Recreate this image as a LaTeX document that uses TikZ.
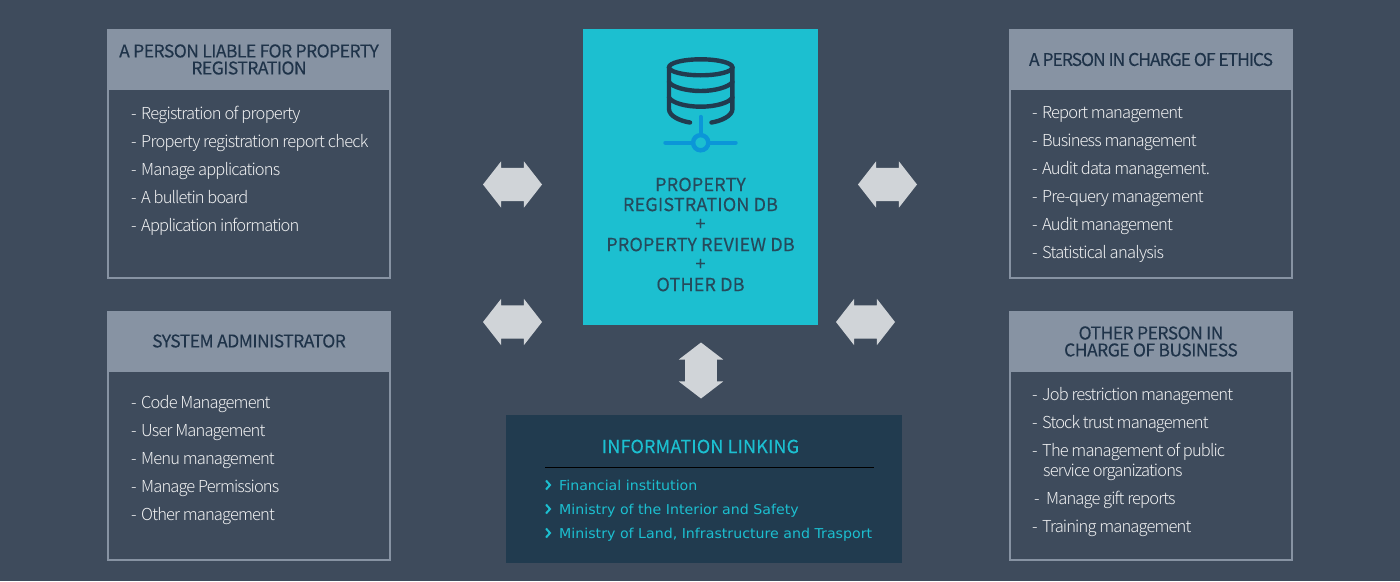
\documentclass[tikz,border=0pt]{standalone}
\usepackage{fontspec}
\usetikzlibrary{shapes.arrows}
\newfontfamily\krfont{Noto Sans CJK KR Light}[LetterSpace=-5.2]
\newfontfamily\krwide{Noto Sans CJK KR Light}[LetterSpace=-4.5]
\newfontfamily\krhead{Noto Sans CJK KR}[LetterSpace=-3,FakeBold=0.25]
\newfontfamily\krheadtight{Noto Sans CJK KR}[LetterSpace=-5.9,FakeBold=0.25]
\newfontfamily\krcent{Noto Sans CJK KR}[LetterSpace=1,FakeBold=0.25]
\newfontfamily\vdfont{DejaVu Sans}[FakeStretch=1.043]
\definecolor{bgc}{HTML}{3E4B5C}
\definecolor{hdrc}{HTML}{8793A3}
\definecolor{hdrtxt}{HTML}{1F3349}
\definecolor{bodytxt}{HTML}{F0F1F2}
\definecolor{cyanc}{HTML}{1CBFD0}
\definecolor{cyantxt}{HTML}{264A5C}
\definecolor{darkc}{HTML}{213B4F}
\definecolor{bluec}{HTML}{0B96D8}
\definecolor{arrowc}{HTML}{D0D4D8}
\tikzset{
  panel/.style={draw=hdrc,line width=2pt,fill=none,inner sep=0pt,minimum width=282pt,rectangle},
  hdrbox/.style={fill=hdrc,inner sep=0pt,minimum width=284pt,align=center,text=hdrtxt,font=\krhead\fontsize{17.5}{18}\selectfont},
  item/.style={anchor=base west,inner sep=0pt,text=bodytxt,font=\krfont\fontsize{16.5}{20}\selectfont},
  itemwide/.style={item,font=\krwide\fontsize{16.5}{20}\selectfont},
  centertxt/.style={inner sep=0pt,text=cyantxt,font=\krcent\fontsize{18}{20}\selectfont},
  linkitem/.style={anchor=base west,inner sep=0pt,text=cyanc,font=\vdfont\fontsize{13.6}{16}\selectfont},
  hdblarrow/.style={double arrow,fill=arrowc,inner sep=0pt,minimum height=59pt,minimum width=46pt,
     double arrow head extend=6.5pt,double arrow tip angle=104},
  vdblarrow/.style={double arrow,shape border rotate=90,fill=arrowc,inner sep=0pt,minimum height=56pt,minimum width=44pt,
     double arrow head extend=6.3pt,double arrow tip angle=105},
  dbline/.style={draw=darkc,line width=4.4pt,line cap=round},
  netline/.style={draw=bluec,line width=4.4pt,line cap=round},
  chev/.style={draw=cyanc,line width=2pt}
}
\newcommand{\dashitem}[1]{\makebox[10pt][l]{-}#1}
\newcommand{\hshaft}{\rule{0pt}{33pt}}
\newcommand{\vshaft}{\rule{31.4pt}{0pt}}
\begin{document}
\begin{tikzpicture}[x=1pt,y=-1pt]
\useasboundingbox (0,0) rectangle (1400,581);
\fill[bgc] (0,0) rectangle (1400,581);

% top-left panel
\node[panel,minimum height=248pt] (tlbox) at (249,154) {};
\node[hdrbox,minimum height=61pt] (tlhead) at (249,59.5) {A PERSON LIABLE FOR PROPERTY\\[-1pt]REGISTRATION};
\node[itemwide] (tl1) at (131,119) {\dashitem{Registration of property}};
\node[itemwide] (tl2) at (131,147) {\dashitem{Property registration report check}};
\node[item] (tl3) at (131,175) {\dashitem{Manage applications}};
\node[item] (tl4) at (131,203) {\dashitem{A bulletin board}};
\node[item] (tl5) at (131,231) {\dashitem{Application information}};

% bottom-left panel
\node[panel,minimum height=248pt] (blbox) at (249,436) {};
\node[hdrbox,minimum height=61pt] (blhead) at (249,341) {SYSTEM ADMINISTRATOR};
\node[item] (bl1) at (131,408) {\dashitem{Code Management}};
\node[item] (bl2) at (131,436) {\dashitem{User Management}};
\node[item] (bl3) at (131,464) {\dashitem{Menu management}};
\node[item] (bl4) at (131,492) {\dashitem{Manage Permissions}};
\node[item] (bl5) at (131,520) {\dashitem{Other management}};

% top-right panel
\node[panel,minimum height=248pt] (trbox) at (1151,154) {};
\node[hdrbox,minimum height=61pt,font=\krheadtight\fontsize{17.5}{18}\selectfont] (trhead) at (1151,59.5) {A PERSON IN CHARGE OF ETHICS};
\node[item] (tr1) at (1032,118) {\dashitem{Report management}};
\node[item] (tr2) at (1032,146) {\dashitem{Business management}};
\node[item] (tr3) at (1032,174) {\dashitem{Audit data management.}};
\node[item] (tr4) at (1032,202) {\dashitem{Pre-query management}};
\node[item] (tr5) at (1032,230) {\dashitem{Audit management}};
\node[itemwide] (tr6) at (1032,258) {\dashitem{Statistical analysis}};

% bottom-right panel
\node[panel,minimum height=248pt] (brbox) at (1151,436) {};
\node[hdrbox,minimum height=61pt] (brhead) at (1151,341.5) {OTHER PERSON IN\\[-1pt]CHARGE OF BUSINESS};
\node[item] (br1) at (1032,400) {\dashitem{Job restriction management}};
\node[item] (br2) at (1032,428) {\dashitem{Stock trust management}};
\node[item] (br3) at (1032,456) {\dashitem{The management of public}};
\node[item] (br3b) at (1043,476) {service organizations};
\node[item] (br4) at (1034,504) {\makebox[12pt][l]{-}Manage gift reports};
\node[item] (br5) at (1032,532) {\dashitem{Training management}};

% central database box
\node[fill=cyanc,inner sep=0pt,minimum width=235pt,minimum height=296pt] (dbbox) at (700.5,177) {};
\draw[dbline] (700.7,67.3) ellipse [x radius=31.7pt,y radius=8pt];
\draw[dbline] (669,67.3) -- (669,109)
  .. controls (669,116) and (680,121) .. (690,122.5);
\draw[dbline] (732.4,67.3) -- (732.4,109)
  .. controls (732.4,116) and (721,121) .. (711.5,122.5);
\draw[dbline] (669,82) .. controls (672,87) and (686,91) .. (700.7,91)
  .. controls (715,91) and (729,87) .. (732.4,82);
\draw[dbline] (669,97.5) .. controls (672,103) and (686,106.7) .. (700.7,106.7)
  .. controls (715,106.7) and (729,103) .. (732.4,97.5);
\draw[netline] (700.7,117) -- (700.7,135);
\draw[netline] (665.5,142.7) -- (693,142.7);
\draw[netline] (708.5,142.7) -- (735.5,142.7);
\draw[netline] (700.7,142.7) circle [radius=7.6pt];
\node[centertxt] (c1) at (700.5,184.5) {PROPERTY};
\node[centertxt] (c2) at (700.5,204.5) {REGISTRATION DB};
\node[centertxt] (c3) at (700.5,224.5) {+};
\node[centertxt] (c4) at (700.5,244.5) {PROPERTY REVIEW DB};
\node[centertxt] (c5) at (700.5,264.5) {+};
\node[centertxt] (c6) at (700.5,284.5) {OTHER DB};

% double arrows
\node[hdblarrow] (a1) at (512.5,184.5) {\hshaft};
\node[hdblarrow] (a2) at (512.5,322) {\hshaft};
\node[hdblarrow] (a3) at (887.5,184.5) {\hshaft};
\node[hdblarrow] (a4) at (865.5,322) {\hshaft};
\node[vdblarrow] (a5) at (701,370.5) {\vshaft};

% information linking box
\node[fill=darkc,inner sep=0pt,minimum width=396pt,minimum height=148pt] (linkbox) at (704,489) {};
\node[inner sep=0pt,text=cyanc,font=\krcent\fontsize{18}{20}\selectfont] (linktitle) at (700.5,446.5) {INFORMATION LINKING};
\coordinate (ruleL) at (545,467.5);
\coordinate (ruleR) at (874,467.5);
\draw[black,line width=1pt] (ruleL) -- (ruleR);
\draw[chev] (546,480.5) -- (550,485) -- (546,489.5);
\draw[chev] (546,504.5) -- (550,509) -- (546,513.5);
\draw[chev] (546,528.5) -- (550,533) -- (546,537.5);
\node[linkitem] (l1) at (559,490) {Financial institution};
\node[linkitem] (l2) at (559,514) {Ministry of the Interior and Safety};
\node[linkitem] (l3) at (559,538) {Ministry of Land, Infrastructure and Trasport};
\end{tikzpicture}
\end{document}
